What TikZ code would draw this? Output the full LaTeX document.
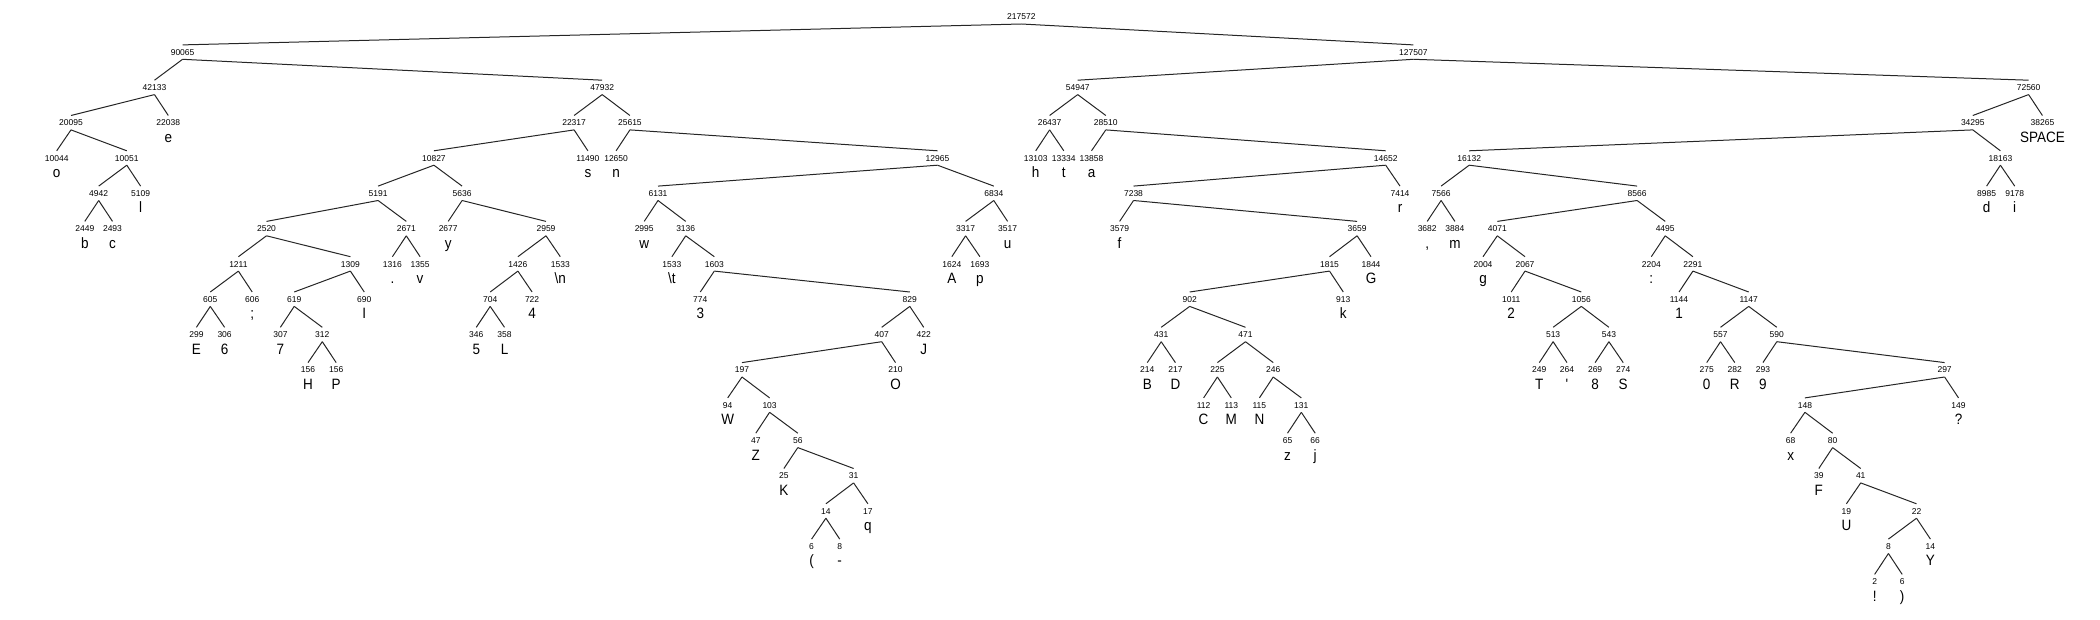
\documentclass[tikz,border=0pt]{standalone}
\usepackage{fontspec}
\setmainfont{Liberation Sans}
\newfontfamily\numfont{Liberation Sans}
\newfontfamily\chrfont[Ligatures=TeXOff,FakeStretch=0.9]{Liberation Sans}
\tikzset{
  num/.style={font=\numfont\fontsize{8.5}{9}\selectfont, inner sep=0pt, text height=6.2pt, text depth=0pt, minimum height=14pt},
  chr/.style={font=\chrfont\fontsize{15}{16}\selectfont, inner sep=0pt},
  edge/.style={draw=black!85, line width=1pt}
}
\newcommand\HNode[4]{\node[num] (#1) at (#2,{16.8+35.3*#3}) {#4};}
\newcommand\HLeaf[5]{\HNode{#1}{#2}{#3}{#4}\node[chr,anchor=base] (#1c) at ([yshift=-19.6pt]#1.center) {#5};}
\newcommand\HEdge[2]{\draw[edge] (#1.south) -- (#2.north);}
\begin{document}
\begin{tikzpicture}[x=1pt,y=-1pt]
\useasboundingbox (0,0) rectangle (2100,620);
% level 0-1
\HNode{r}{1021.4}{0}{217572}
\HNode{a90065}{182.6}{1}{90065}
\HNode{a127507}{1413.4}{1}{127507}
% level 2
\HNode{a42133}{154.5}{2}{42133}
\HNode{a47932}{602.2}{2}{47932}
\HNode{a54947}{1077.7}{2}{54947}
\HNode{a72560}{2028.6}{2}{72560}
% level 3
\HNode{a20095}{71}{3}{20095}
\HLeaf{a22038}{168.3}{3}{22038}{e}
\HNode{a22317}{574.1}{3}{22317}
\HNode{a25615}{629.9}{3}{25615}
\HNode{a26437}{1049.6}{3}{26437}
\HNode{a28510}{1105.8}{3}{28510}
\HNode{a34295}{1972.8}{3}{34295}
\HLeaf{a38265}{2042.4}{3}{38265}{SPACE}
% level 4
\HLeaf{a10044}{56.7}{4}{10044}{o}
\HNode{a10051}{126.8}{4}{10051}
\HNode{a10827}{433.9}{4}{10827}
\HLeaf{a11490}{587.9}{4}{11490}{s}
\HLeaf{a12650}{616.1}{4}{12650}{n}
\HNode{a12965}{937.5}{4}{12965}
\HLeaf{a13103}{1035.7}{4}{13103}{h}
\HLeaf{a13334}{1063.8}{4}{13334}{t}
\HLeaf{a13858}{1091.5}{4}{13858}{a}
\HNode{a14652}{1385.7}{4}{14652}
\HNode{a16132}{1469.2}{4}{16132}
\HNode{a18163}{2000.4}{4}{18163}
% level 5
\HNode{a4942}{98.7}{5}{4942}
\HLeaf{a5109}{140.6}{5}{5109}{l}
\HNode{a5191}{378.1}{5}{5191}
\HNode{a5636}{462.1}{5}{5636}
\HNode{a6131}{658.0}{5}{6131}
\HNode{a6834}{993.8}{5}{6834}
\HNode{a7238}{1133.5}{5}{7238}
\HLeaf{a7414}{1400}{5}{7414}{r}
\HNode{a7566}{1441.1}{5}{7566}
\HNode{a8566}{1637.1}{5}{8566}
\HLeaf{a8985}{1986.6}{5}{8985}{d}
\HLeaf{a9178}{2014.7}{5}{9178}{i}
% level 6
\HLeaf{a2449}{84.8}{6}{2449}{b}
\HLeaf{a2493}{112.5}{6}{2493}{c}
\HNode{a2520}{266.5}{6}{2520}
\HNode{a2671}{406.3}{6}{2671}
\HLeaf{a2677}{448.2}{6}{2677}{y}
\HNode{a2959}{546.0}{6}{2959}
\HLeaf{a2995}{644.2}{6}{2995}{w}
\HNode{a3136}{685.7}{6}{3136}
\HNode{a3317}{965.6}{6}{3317}
\HLeaf{a3517}{1007.6}{6}{3517}{u}
\HLeaf{a3579}{1119.6}{6}{3579}{f}
\HNode{a3659}{1357.1}{6}{3659}
\HLeaf{a3682}{1427.2}{6}{3682}{,}
\HLeaf{a3884}{1454.9}{6}{3884}{m}
\HNode{a4071}{1497.3}{6}{4071}
\HNode{a4495}{1665.2}{6}{4495}
% level 7
\HNode{a1211}{238.4}{7}{1211}
\HNode{a1309}{350.4}{7}{1309}
\HLeaf{a1316}{392.4}{7}{1316}{.}
\HLeaf{a1355}{420.1}{7}{1355}{v}
\HNode{a1426}{517.9}{7}{1426}
\HLeaf{a1533n}{560.3}{7}{1533}{\textbackslash n}
\HLeaf{a1533t}{671.9}{7}{1533}{\textbackslash t}
\HNode{a1603}{714.3}{7}{1603}
\HLeaf{a1624}{951.8}{7}{1624}{A}
\HLeaf{a1693}{979.9}{7}{1693}{p}
\HNode{a1815}{1329.5}{7}{1815}
\HLeaf{a1844}{1371.0}{7}{1844}{G}
\HLeaf{a2004}{1483.0}{7}{2004}{g}
\HNode{a2067}{1525.0}{7}{2067}
\HLeaf{a2204}{1651.3}{7}{2204}{:}
\HNode{a2291}{1692.9}{7}{2291}
% level 8
\HNode{a605}{210.3}{8}{605}
\HLeaf{a606}{252.2}{8}{606}{;}
\HNode{a619}{294.2}{8}{619}
\HLeaf{a690}{364.3}{8}{690}{I}
\HNode{a704}{490.2}{8}{704}
\HLeaf{a722}{532.1}{8}{722}{4}
\HLeaf{a774}{700.3}{8}{774}{3}
\HNode{a829}{909.8}{8}{829}
\HNode{a902}{1189.7}{8}{902}
\HLeaf{a913}{1343.3}{8}{913}{k}
\HLeaf{a1011}{1511.2}{8}{1011}{2}
\HNode{a1056}{1581.3}{8}{1056}
\HLeaf{a1144}{1679.0}{8}{1144}{1}
\HNode{a1147}{1748.7}{8}{1147}
% level 9
\HLeaf{a299}{196.4}{9}{299}{E}
\HLeaf{a306}{224.6}{9}{306}{6}
\HLeaf{a307}{280.4}{9}{307}{7}
\HNode{a312}{322.3}{9}{312}
\HLeaf{a346}{476.3}{9}{346}{5}
\HLeaf{a358}{504.5}{9}{358}{L}
\HNode{a407}{881.7}{9}{407}
\HLeaf{a422}{923.7}{9}{422}{J}
\HNode{a431}{1161.2}{9}{431}
\HNode{a471}{1245.5}{9}{471}
\HNode{a513}{1553.1}{9}{513}
\HNode{a543}{1608.9}{9}{543}
\HNode{a557}{1720.5}{9}{557}
\HNode{a590}{1776.8}{9}{590}
% level 10
\HLeaf{a156h}{308.0}{10}{156}{H}
\HLeaf{a156p}{336.2}{10}{156}{P}
\HNode{a197}{742.0}{10}{197}
\HLeaf{a210}{895.5}{10}{210}{O}
\HLeaf{a214}{1147.3}{10}{214}{B}
\HLeaf{a217}{1175.4}{10}{217}{D}
\HNode{a225}{1217.4}{10}{225}
\HNode{a246}{1273.2}{10}{246}
\HLeaf{a249}{1539.3}{10}{249}{T}
\HLeaf{a264}{1567.0}{10}{264}{'}
\HLeaf{a269}{1595.1}{10}{269}{8}
\HLeaf{a274}{1623.2}{10}{274}{S}
\HLeaf{a275}{1706.7}{10}{275}{0}
\HLeaf{a282}{1734.8}{10}{282}{R}
\HLeaf{a293}{1762.9}{10}{293}{9}
\HNode{a297}{1944.6}{10}{297}
% level 11
\HLeaf{a94}{727.7}{11}{94}{W}
\HNode{a103}{769.6}{11}{103}
\HLeaf{a112}{1203.6}{11}{112}{C}
\HLeaf{a113}{1231.3}{11}{113}{M}
\HLeaf{a115}{1259.4}{11}{115}{N}
\HNode{a131}{1301.3}{11}{131}
\HNode{a148}{1804.9}{11}{148}
\HLeaf{a149}{1958.5}{11}{149}{?}
% level 12
\HLeaf{a47}{755.8}{12}{47}{Z}
\HNode{a56}{797.8}{12}{56}
\HLeaf{a65}{1287.5}{12}{65}{z}
\HLeaf{a66}{1315.2}{12}{66}{j}
\HLeaf{a68}{1790.6}{12}{68}{x}
\HNode{a80}{1832.6}{12}{80}
% level 13
\HLeaf{a25}{783.9}{13}{25}{K}
\HNode{a31}{853.6}{13}{31}
\HLeaf{a39}{1818.8}{13}{39}{F}
\HNode{a41}{1860.7}{13}{41}
% level 14
\HNode{a14l}{825.9}{14}{14}
\HLeaf{a17}{867.9}{14}{17}{q}
\HLeaf{a19}{1846.4}{14}{19}{U}
\HNode{a22}{1916.5}{14}{22}
% level 15
\HLeaf{a6l}{811.6}{15}{6}{(}
\HLeaf{a8l}{839.7}{15}{8}{-}
\HNode{a8r}{1888.4}{15}{8}
\HLeaf{a14r}{1930.4}{15}{14}{Y}
% level 16
\HLeaf{a2}{1874.6}{16}{2}{!}
\HLeaf{a6r}{1902.2}{16}{6}{)}
% edges
\HEdge{r}{a90065}\HEdge{r}{a127507}
\HEdge{a90065}{a42133}\HEdge{a90065}{a47932}
\HEdge{a127507}{a54947}\HEdge{a127507}{a72560}
\HEdge{a42133}{a20095}\HEdge{a42133}{a22038}
\HEdge{a47932}{a22317}\HEdge{a47932}{a25615}
\HEdge{a54947}{a26437}\HEdge{a54947}{a28510}
\HEdge{a72560}{a34295}\HEdge{a72560}{a38265}
\HEdge{a20095}{a10044}\HEdge{a20095}{a10051}
\HEdge{a22317}{a10827}\HEdge{a22317}{a11490}
\HEdge{a25615}{a12650}\HEdge{a25615}{a12965}
\HEdge{a26437}{a13103}\HEdge{a26437}{a13334}
\HEdge{a28510}{a13858}\HEdge{a28510}{a14652}
\HEdge{a34295}{a16132}\HEdge{a34295}{a18163}
\HEdge{a10051}{a4942}\HEdge{a10051}{a5109}
\HEdge{a10827}{a5191}\HEdge{a10827}{a5636}
\HEdge{a12965}{a6131}\HEdge{a12965}{a6834}
\HEdge{a14652}{a7238}\HEdge{a14652}{a7414}
\HEdge{a16132}{a7566}\HEdge{a16132}{a8566}
\HEdge{a18163}{a8985}\HEdge{a18163}{a9178}
\HEdge{a4942}{a2449}\HEdge{a4942}{a2493}
\HEdge{a5191}{a2520}\HEdge{a5191}{a2671}
\HEdge{a5636}{a2677}\HEdge{a5636}{a2959}
\HEdge{a6131}{a2995}\HEdge{a6131}{a3136}
\HEdge{a6834}{a3317}\HEdge{a6834}{a3517}
\HEdge{a7238}{a3579}\HEdge{a7238}{a3659}
\HEdge{a7566}{a3682}\HEdge{a7566}{a3884}
\HEdge{a8566}{a4071}\HEdge{a8566}{a4495}
\HEdge{a2520}{a1211}\HEdge{a2520}{a1309}
\HEdge{a2671}{a1316}\HEdge{a2671}{a1355}
\HEdge{a2959}{a1426}\HEdge{a2959}{a1533n}
\HEdge{a3136}{a1533t}\HEdge{a3136}{a1603}
\HEdge{a3317}{a1624}\HEdge{a3317}{a1693}
\HEdge{a3659}{a1815}\HEdge{a3659}{a1844}
\HEdge{a4071}{a2004}\HEdge{a4071}{a2067}
\HEdge{a4495}{a2204}\HEdge{a4495}{a2291}
\HEdge{a1211}{a605}\HEdge{a1211}{a606}
\HEdge{a1309}{a619}\HEdge{a1309}{a690}
\HEdge{a1426}{a704}\HEdge{a1426}{a722}
\HEdge{a1603}{a774}\HEdge{a1603}{a829}
\HEdge{a1815}{a902}\HEdge{a1815}{a913}
\HEdge{a2067}{a1011}\HEdge{a2067}{a1056}
\HEdge{a2291}{a1144}\HEdge{a2291}{a1147}
\HEdge{a605}{a299}\HEdge{a605}{a306}
\HEdge{a619}{a307}\HEdge{a619}{a312}
\HEdge{a704}{a346}\HEdge{a704}{a358}
\HEdge{a829}{a407}\HEdge{a829}{a422}
\HEdge{a902}{a431}\HEdge{a902}{a471}
\HEdge{a1056}{a513}\HEdge{a1056}{a543}
\HEdge{a1147}{a557}\HEdge{a1147}{a590}
\HEdge{a312}{a156h}\HEdge{a312}{a156p}
\HEdge{a407}{a197}\HEdge{a407}{a210}
\HEdge{a431}{a214}\HEdge{a431}{a217}
\HEdge{a471}{a225}\HEdge{a471}{a246}
\HEdge{a513}{a249}\HEdge{a513}{a264}
\HEdge{a543}{a269}\HEdge{a543}{a274}
\HEdge{a557}{a275}\HEdge{a557}{a282}
\HEdge{a590}{a293}\HEdge{a590}{a297}
\HEdge{a197}{a94}\HEdge{a197}{a103}
\HEdge{a225}{a112}\HEdge{a225}{a113}
\HEdge{a246}{a115}\HEdge{a246}{a131}
\HEdge{a297}{a148}\HEdge{a297}{a149}
\HEdge{a103}{a47}\HEdge{a103}{a56}
\HEdge{a131}{a65}\HEdge{a131}{a66}
\HEdge{a148}{a68}\HEdge{a148}{a80}
\HEdge{a56}{a25}\HEdge{a56}{a31}
\HEdge{a80}{a39}\HEdge{a80}{a41}
\HEdge{a31}{a14l}\HEdge{a31}{a17}
\HEdge{a41}{a19}\HEdge{a41}{a22}
\HEdge{a14l}{a6l}\HEdge{a14l}{a8l}
\HEdge{a22}{a8r}\HEdge{a22}{a14r}
\HEdge{a8r}{a2}\HEdge{a8r}{a6r}
\end{tikzpicture}
\end{document}
